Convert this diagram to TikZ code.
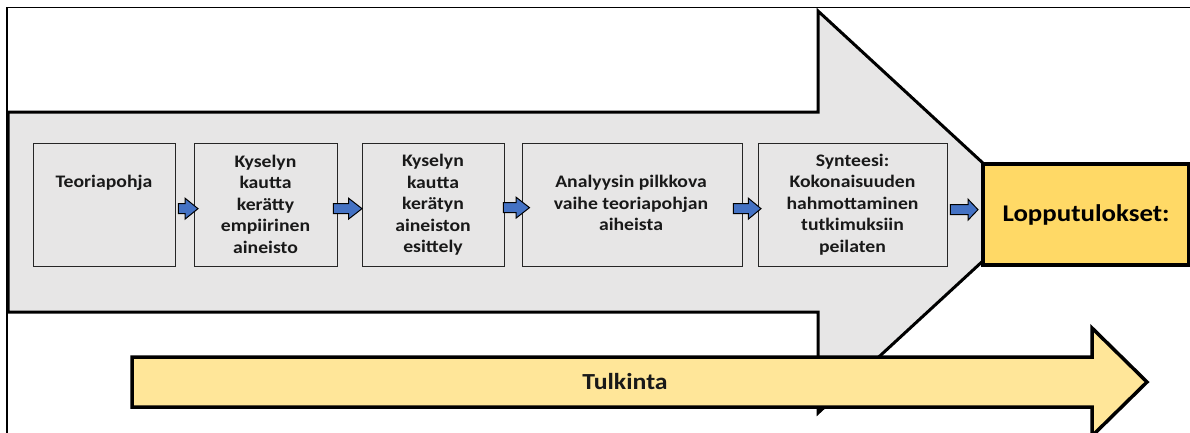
\documentclass[tikz,border=0pt]{standalone}
\usepackage{fontspec}
\setmainfont{Carlito}[FakeStretch=1.12]
\usetikzlibrary{calc}
\definecolor{boxgray}{HTML}{E7E6E6}
\definecolor{gold}{HTML}{FFD966}
\definecolor{lightgold}{HTML}{FFE699}
\definecolor{arrowblue}{HTML}{4472C4}
\tikzset{
  stagebox/.style={draw=black!85, line width=1.3pt, fill=boxgray, inner sep=0pt, anchor=north west, minimum height=123pt},
  stagetext/.style={font=\fontsize{17.6}{21.5}\selectfont\bfseries, align=center, anchor=base, inner sep=0pt, text=black!90},
  flowarrow/.style={draw=black, line width=1pt, fill=arrowblue, line join=miter},
  bigarrow/.style={draw=black, line width=3pt, fill=boxgray, line join=miter},
  timearrow/.style={draw=black, line width=3.5pt, fill=lightgold, line join=miter},
  resultbox/.style={draw=black, line width=4pt, fill=gold, inner sep=0pt, anchor=north west, minimum width=206pt, minimum height=101pt, font=\fontsize{24}{29}\selectfont\bfseries},
}
\newcommand\flowstep[3]{%
  \draw[flowarrow] let \p1=(#1), \p2=(#2) in
    (\x1,{\y1+5pt}) -- ({\x2-#3pt},{\y1+5pt}) -- ({\x2-#3pt},{\y1+10.5pt}) -- (\x2,\y1)
    -- ({\x2-#3pt},{\y1-10.5pt}) -- ({\x2-#3pt},{\y1-5pt}) -- (\x1,{\y1-5pt}) -- cycle;}
\begin{document}
\begin{tikzpicture}[x=1pt,y=-1pt]
\useasboundingbox (0,0) rectangle (1190,432);
\clip (0,0) rectangle (1190,432);
\fill[white] (0,0) rectangle (1190,432);
% frame
\draw[line width=1.3pt] (7,440) -- (7,7.5) -- (1200,7.5);
% big process arrow
\draw[bigarrow] (8,112) -- (818,112) -- (818,11) -- (1036,212) -- (818,413) -- (818,312) -- (8,312) -- cycle;
\draw[line width=1.5pt] (8.5,112) -- (8.5,312);
% stage boxes
\node[stagebox, minimum width=142pt] (b1) at (33,143) {};
\node[stagebox, minimum width=143pt] (b2) at (194,143) {};
\node[stagebox, minimum width=142pt] (b3) at (362,143) {};
\node[stagebox, minimum width=220pt] (b4) at (522,143) {};
\node[stagebox, minimum width=189pt] (b5) at (758,143) {};
% (anchor=base is the baseline of the last line)
\node[stagetext] (t1) at (104,187) {Teoriapohja};
\node[stagetext] (t2) at (265.5,253) {Kyselyn\\kautta\\kerätty\\empiirinen\\aineisto};
\node[stagetext] (t3) at (433,252.5) {Kyselyn\\kautta\\kerätyn\\aineiston\\esittely};
\node[stagetext] (t4) at (631,230.5) {Analyysin pilkkova\\vaihe teoriapohjan\\aiheista};
\node[stagetext] (t5) at (852.5,252) {Synteesi:\\Kokonaisuuden\\hahmottaminen\\tutkimuksiin\\peilaten};
% interpretation arrow
\draw[timearrow] (132,357) -- (1092,357) -- (1092,328) -- (1147,382) -- (1092,436) -- (1092,407) -- (132,407) -- cycle;
\node[font=\fontsize{23}{28}\selectfont\bfseries, text=black!90] (tulk) at (625,382) {Tulkinta};
% result box
\node[resultbox] (res) at (981,162) {Lopputulokset:};
% flow arrows
\flowstep{$(b1.east)+(2,3.5)$}{$(b2.west)+(4,3.5)$}{13}
\flowstep{$(b2.east)+(-5,3.5)$}{$(b3.west)+(0,3.5)$}{13.5}
\flowstep{$(b3.east)+(-2,2.5)$}{$(b4.west)+(7.5,2.5)$}{13.5}
\flowstep{$(b4.east)+(-10,3.5)$}{$(b5.west)+(3,3.5)$}{12.7}
\flowstep{$(b5.east)+(2,4.5)$}{$(res.west)+(-3,-3.5)$}{10}
\end{tikzpicture}
\end{document}
